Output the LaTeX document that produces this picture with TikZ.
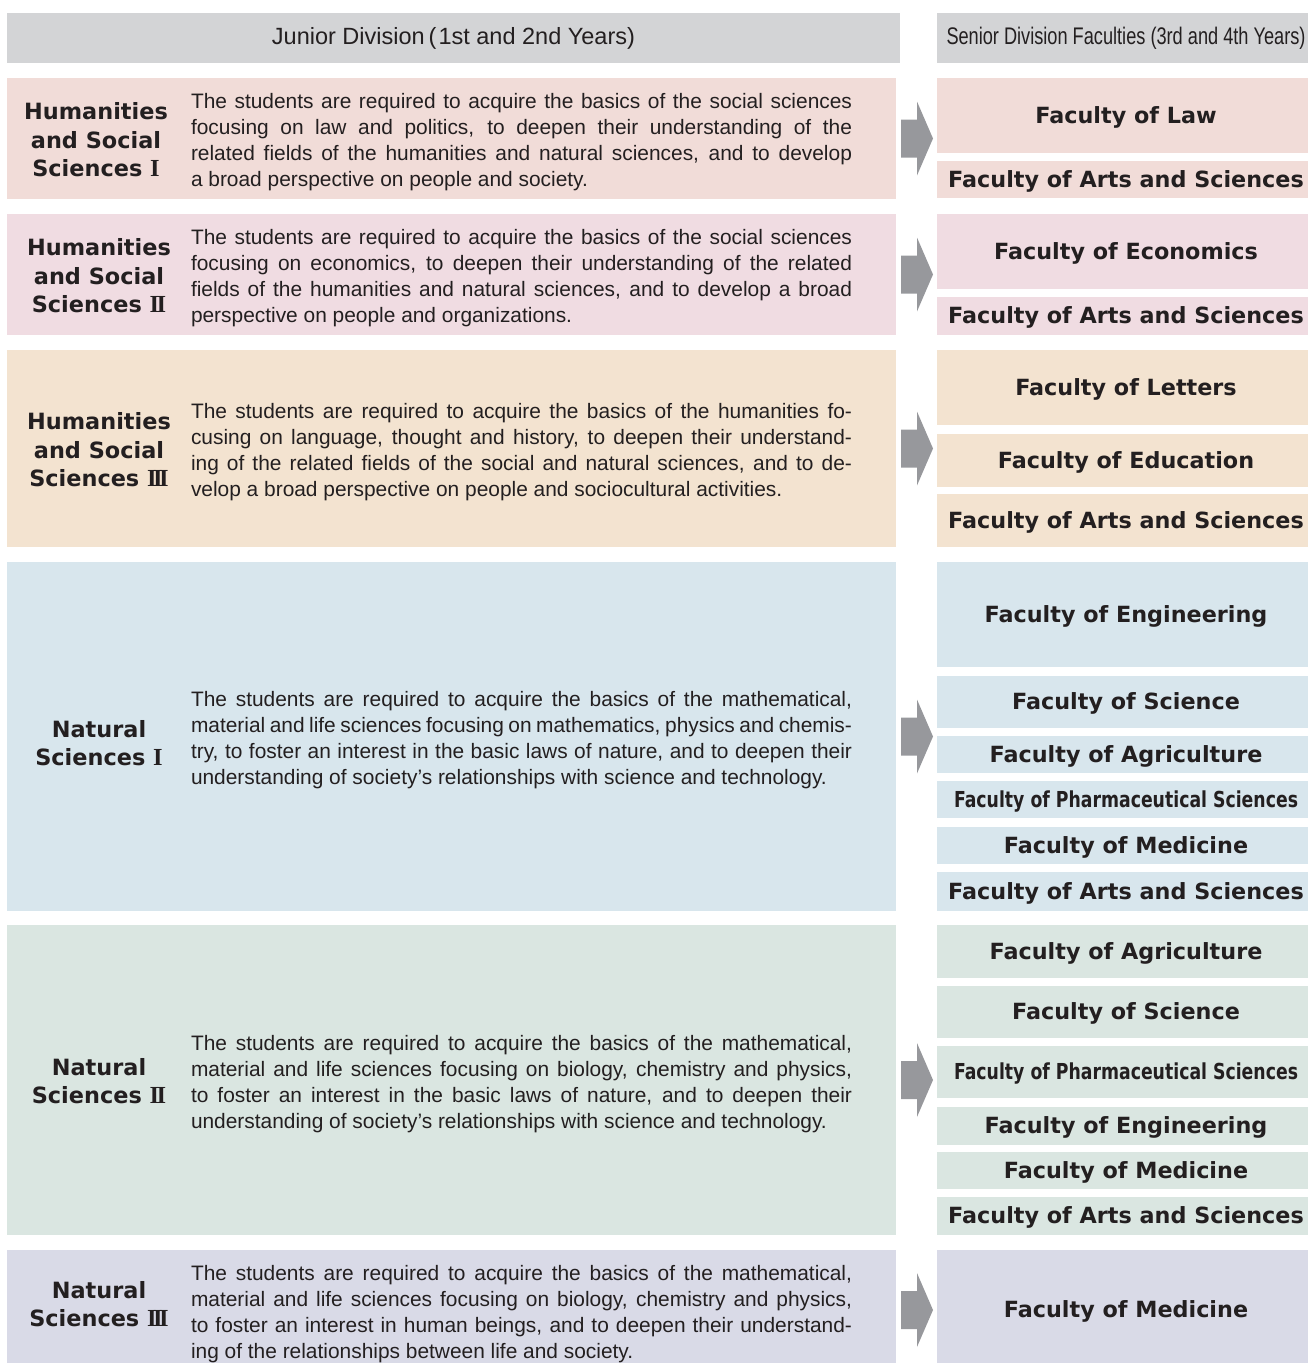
\documentclass[tikz,border=0pt]{standalone}
\usepackage{fontspec}
\usepackage{graphicx}
\setmainfont{Liberation Sans}
\newfontfamily\labfont{DejaVu Sans}
\newfontfamily\romfont{Liberation Serif}

\definecolor{hdr}{HTML}{D3D4D6}
\definecolor{cA}{HTML}{F1DCD8}
\definecolor{cB}{HTML}{F0DCE2}
\definecolor{cC}{HTML}{F3E3D0}
\definecolor{cD}{HTML}{D8E6ED}
\definecolor{cE}{HTML}{DAE6E1}
\definecolor{cF}{HTML}{D9DAE7}
\definecolor{arr}{HTML}{97989C}
\definecolor{ink}{HTML}{231F20}

\newcommand\jline[1]{\makebox[661pt][s]{\spaceskip=0pt\xspaceskip=0pt #1}\\}
\newcommand\lline[1]{\makebox[661pt][l]{\spaceskip=0pt\xspaceskip=0pt #1}}
\newcommand\rn[1]{{\romfont\bfseries\fontsize{24.5}{28}\selectfont #1}}
\newcommand\blockarrow[1]{%
  \fill[arr] ([xshift=5pt,yshift=19pt]#1.east) -- ([xshift=21pt,yshift=19pt]#1.east)
    -- ([xshift=21pt,yshift=37pt]#1.east) -- ([xshift=37pt]#1.east)
    -- ([xshift=21pt,yshift=-37pt]#1.east) -- ([xshift=21pt,yshift=-19pt]#1.east)
    -- ([xshift=5pt,yshift=-19pt]#1.east) -- cycle;}

\begin{document}
\begin{tikzpicture}[x=1pt,y=-1pt,
  every node/.style={inner sep=0pt, outer sep=0pt, text=ink},
  hdrbox/.style={anchor=north west, fill=hdr, minimum height=50pt},
  leftbox/.style={anchor=north west, minimum width=889pt},
  facbox/.style={anchor=north west, minimum width=378pt, text height=15pt, text depth=0pt,
    font=\labfont\bfseries\fontsize{22.3}{26}\selectfont},
  body/.style={anchor=west, text width=661pt, align=left,
    font=\fontsize{20.9}{26}\selectfont},
  lab/.style={align=center, font=\labfont\bfseries\fontsize{22.4}{28.5}\selectfont}]

\useasboundingbox (0,0) rectangle (1308,1363);

% headers
\node[hdrbox, minimum width=893pt, font=\fontsize{23.5}{26}\selectfont] (hL) at (7,13)
  {Junior Division\hspace{4pt}(\hspace{2pt}1st and 2nd Years)};
\node[hdrbox, minimum width=378pt] (hR) at (937,13)
  {\resizebox{359pt}{\height}{\fontsize{24}{26}\selectfont Senior Division Faculties (3rd and 4th Years)}};

% left boxes
\node[leftbox, fill=cA, minimum height=121pt] (L1) at (7,78) {};
\node[leftbox, fill=cB, minimum height=121pt] (L2) at (7,214) {};
\node[leftbox, fill=cC, minimum height=197pt] (L3) at (7,350) {};
\node[leftbox, fill=cD, minimum height=349pt] (L4) at (7,562) {};
\node[leftbox, fill=cE, minimum height=310pt] (L5) at (7,925) {};
\node[leftbox, fill=cF, minimum height=120pt] (L6) at (7,1250) {};

% labels
\node[lab] (n1) at (96,140) {Humanities\\and Social\\Sciences \rn{I}};
\node[lab] (n2) at (99,276) {Humanities\\and Social\\Sciences \rn{I\kern-2.5ptI}};
\node[lab] (n3) at (99,450) {Humanities\\and Social\\Sciences \rn{I\kern-3.5ptI\kern-3.5ptI}};
\node[lab] (n4) at (99,743) {Natural\\Sciences \rn{I}};
\node[lab] (n5) at (99,1081) {Natural\\Sciences \rn{I\kern-2.5ptI}};
\node[lab] (n6) at (99,1304) {Natural\\Sciences \rn{I\kern-3.5ptI\kern-3.5ptI}};

% descriptions
\node[body] (t1) at (191,142.5) {%
\jline{The students are required to acquire the basics of the social sciences}
\jline{focusing on law and politics, to deepen their understanding of the}
\jline{related fields of the humanities and natural sciences, and to develop}
\lline{a broad perspective on people and society.}};
\node[body] (t2) at (191,278.5) {%
\jline{The students are required to acquire the basics of the social sciences}
\jline{focusing on economics, to deepen their understanding of the related}
\jline{fields of the humanities and natural sciences, and to develop a broad}
\lline{perspective on people and organizations.}};
\node[body] (t3) at (191,452.5) {%
\jline{The students are required to acquire the basics of the humanities fo-}
\jline{cusing on language, thought and history, to deepen their understand-}
\jline{ing of the related fields of the social and natural sciences, and to de-}
\lline{velop a broad perspective on people and sociocultural activities.}};
\node[body] (t4) at (191,740.5) {%
\jline{The students are required to acquire the basics of the mathematical,}
\jline{material and life sciences focusing on mathematics, physics and chemis-}
\jline{try, to foster an interest in the basic laws of nature, and to deepen their}
\lline{understanding of society’s relationships with science and technology.}};
\node[body] (t5) at (191,1084.5) {%
\jline{The students are required to acquire the basics of the mathematical,}
\jline{material and life sciences focusing on biology, chemistry and physics,}
\jline{to foster an interest in the basic laws of nature, and to deepen their}
\lline{understanding of society’s relationships with science and technology.}};
\node[body] (t6) at (191,1314.5) {%
\jline{The students are required to acquire the basics of the mathematical,}
\jline{material and life sciences focusing on biology, chemistry and physics,}
\jline{to foster an interest in human beings, and to deepen their understand-}
\lline{ing of the relationships between life and society.}};

% faculties
\node[facbox, fill=cA, minimum height=75pt] (f11) at (937,78) {Faculty of Law};
\node[facbox, fill=cA, minimum height=37pt] (f12) at (937,161) {Faculty of Arts and Sciences};

\node[facbox, fill=cB, minimum height=75pt] (f21) at (937,214) {Faculty of Economics};
\node[facbox, fill=cB, minimum height=38pt] (f22) at (937,297) {Faculty of Arts and Sciences};

\node[facbox, fill=cC, minimum height=75pt] (f31) at (937,350) {Faculty of Letters};
\node[facbox, fill=cC, minimum height=53pt] (f32) at (937,434) {Faculty of Education};
\node[facbox, fill=cC, minimum height=53pt] (f33) at (937,494) {Faculty of Arts and Sciences};

\node[facbox, fill=cD, minimum height=105pt] (f41) at (937,562) {Faculty of Engineering};
\node[facbox, fill=cD, minimum height=52pt] (f42) at (937,676) {Faculty of Science};
\node[facbox, fill=cD, minimum height=37pt] (f43) at (937,736) {Faculty of Agriculture};
\node[facbox, fill=cD, minimum height=37pt] (f44) at (937,781)
  {\resizebox{344pt}{\height}{\fontsize{22}{26}\selectfont\bfseries Faculty of Pharmaceutical Sciences}};
\node[facbox, fill=cD, minimum height=37pt] (f45) at (937,827) {Faculty of Medicine};
\node[facbox, fill=cD, minimum height=39pt] (f46) at (937,872) {Faculty of Arts and Sciences};

\node[facbox, fill=cE, minimum height=53pt] (f51) at (937,925) {Faculty of Agriculture};
\node[facbox, fill=cE, minimum height=52pt] (f52) at (937,986) {Faculty of Science};
\node[facbox, fill=cE, minimum height=52pt] (f53) at (937,1046)
  {\resizebox{344pt}{\height}{\fontsize{22}{26}\selectfont\bfseries Faculty of Pharmaceutical Sciences}};
\node[facbox, fill=cE, minimum height=38pt] (f54) at (937,1107) {Faculty of Engineering};
\node[facbox, fill=cE, minimum height=37pt] (f55) at (937,1152) {Faculty of Medicine};
\node[facbox, fill=cE, minimum height=38pt] (f56) at (937,1197) {Faculty of Arts and Sciences};

\node[facbox, fill=cF, minimum height=120pt] (f61) at (937,1250) {Faculty of Medicine};

% arrows
\blockarrow{L1}
\blockarrow{L2}
\blockarrow{L3}
\blockarrow{L4}
\blockarrow{L5}
\blockarrow{L6}
\end{tikzpicture}
\end{document}
